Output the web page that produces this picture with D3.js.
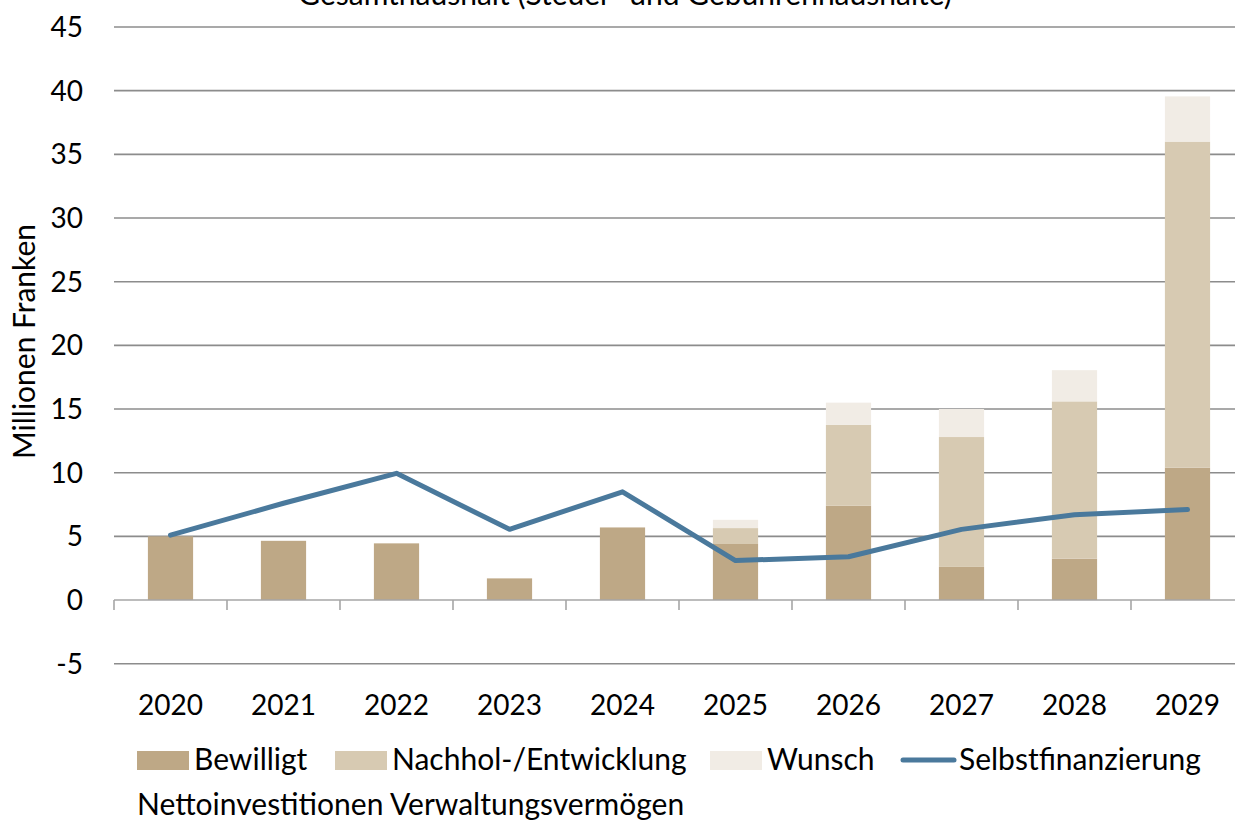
<!DOCTYPE html>
<html>
<head>
<meta charset="utf-8">
<script src="https://cdn.jsdelivr.net/npm/d3@7"></script>
<style>
  body { margin: 0; background: #fff; }
  text { font-family: Lato, "Open Sans", sans-serif; fill: #000; }
</style>
</head>
<body>
<div id="chart"></div>
<script>
    // datos (millones de francos)
    var years = ["2020", "2021", "2022", "2023", "2024", "2025", "2026", "2027", "2028", "2029"];
    var bewilligt = [5.0, 4.65, 4.45, 1.7, 5.7, 4.4, 7.4, 2.6, 3.25, 10.4];
    var nachhol = [0, 0, 0, 0, 0, 1.25, 6.35, 10.2, 12.35, 25.6];
    var wunsch = [0, 0, 0, 0, 0, 0.65, 1.75, 2.2, 2.45, 3.55];
    var selbst = [5.1, 7.6, 9.95, 5.55, 8.5, 3.1, 3.4, 5.55, 6.7, 7.1];
    var yTicks = [-5, 0, 5, 10, 15, 20, 25, 30, 35, 40, 45];
    var seriesNames = ["Bewilligt", "Nachhol-/Entwicklung", "Wunsch"];

    var colors = ["#bea886", "#d7cab2", "#f1ece5"];
    var lineColor = "#4a799c";

    var W = 1235, H = 822;
    var svg = d3.select("#chart").append("svg")
        .attr("width", W)
        .attr("height", H);

    // escalas
    var x = d3.scaleBand().domain(years).range([114, 1244]).padding(0);
    var y = d3.scaleLinear().domain([-5, 45]).range([663.7, 27]);
    var barW = x.bandwidth() / 2.5;

    // titulo (cortado arriba)
    svg.append("text")
        .attr("x", 625).attr("y", 5)
        .attr("text-anchor", "middle")
        .style("font-size", "30px")
        .text("Gesamthaushalt (Steuer- und Gebührenhaushalte)");

    // lineas de cuadricula
    svg.append("g").selectAll("line")
        .data(yTicks.filter(function(d) { return d !== 0; }))
        .join("line")
        .attr("x1", 114).attr("x2", W)
        .attr("y1", function(d) { return y(d); })
        .attr("y2", function(d) { return y(d); })
        .attr("stroke", "#8c8c8c")
        .attr("stroke-width", 1.6);

    // etiquetas eje y
    svg.append("g").selectAll("text")
        .data(yTicks)
        .join("text")
        .attr("x", 83)
        .attr("y", function(d) { return y(d); })
        .attr("dy", "0.36em")
        .attr("text-anchor", "end")
        .style("font-size", "28px")
        .text(function(d) { return d; });

    svg.append("text")
        .attr("transform", "translate(35," + y(20.3) + ") rotate(-90)")
        .attr("text-anchor", "middle")
        .style("font-size", "30px")
        .text("Millionen Franken");

    // barras apiladas
    var table = years.map(function(yr, i) {
        return { year: yr, b: bewilligt[i], n: nachhol[i], w: wunsch[i] };
    });
    var stacked = d3.stack().keys(["b", "n", "w"])(table);

    svg.append("g").selectAll("g")
        .data(stacked)
        .join("g")
        .attr("fill", function(d, i) { return colors[i]; })
        .selectAll("rect")
        .data(function(d) { return d; })
        .join("rect")
        .attr("x", function(d) { return x(d.data.year) + (x.bandwidth() - barW) / 2; })
        .attr("width", barW)
        .attr("y", function(d) { return y(d[1]); })
        .attr("height", function(d) { return Math.max(0, y(d[0]) - y(d[1])); });

    // eje x en cero
    var xAxis = svg.append("g");
    xAxis.append("line")
        .attr("x1", 114).attr("x2", W)
        .attr("y1", y(0)).attr("y2", y(0))
        .attr("stroke", "#a6a6a6")
        .attr("stroke-width", 1.6);
    xAxis.selectAll(".tick")
        .data(years)
        .join("line")
        .attr("x1", function(d) { return x(d); })
        .attr("x2", function(d) { return x(d); })
        .attr("y1", y(0)).attr("y2", y(0) + 10)
        .attr("stroke", "#a6a6a6")
        .attr("stroke-width", 1.6);

    svg.append("g").selectAll("text")
        .data(years)
        .join("text")
        .attr("x", function(d) { return x(d) + x.bandwidth() / 2; })
        .attr("y", 715)
        .attr("text-anchor", "middle")
        .style("font-size", "28px")
        .text(function(d) { return d; });

    // linea autofinanciacion
    svg.append("path")
        .datum(selbst)
        .attr("fill", "none")
        .attr("stroke", lineColor)
        .attr("stroke-width", 5)
        .attr("stroke-linecap", "round")
        .attr("stroke-linejoin", "round")
        .attr("d", d3.line()
            .x(function(d, i) { return x(years[i]) + x.bandwidth() / 2; })
            .y(function(d) { return y(d); }));

    // leyenda
    var legX = [137, 335, 710];
    var leg = svg.append("g");
    seriesNames.forEach(function(name, i) {
        leg.append("rect")
            .attr("x", legX[i]).attr("y", 751)
            .attr("width", 52).attr("height", 19)
            .attr("fill", colors[i]);
        leg.append("text")
            .attr("x", legX[i] + 57).attr("y", 770)
            .style("font-size", "30px")
            .text(name);
    });
    leg.append("line")
        .attr("x1", 903).attr("x2", 954)
        .attr("y1", 760).attr("y2", 760)
        .attr("stroke", lineColor)
        .attr("stroke-width", 5)
        .attr("stroke-linecap", "round");
    leg.append("text")
        .attr("x", 959).attr("y", 770)
        .style("font-size", "30px")
        .text("Selbstfinanzierung");

    svg.append("text")
        .attr("x", 137).attr("y", 815)
        .style("font-size", "30px")
        .text("Nettoinvestitionen Verwaltungsvermögen");
</script>
</body>
</html>
